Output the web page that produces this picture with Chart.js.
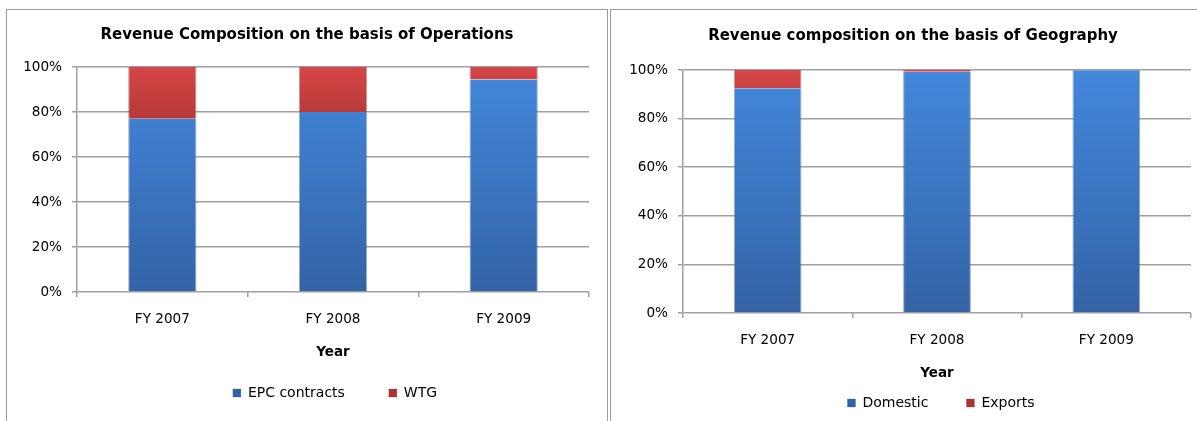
<!DOCTYPE html>
<html>
<head>
<meta charset="utf-8">
<script src="https://cdn.jsdelivr.net/npm/chart.js@4.4.1/dist/chart.umd.min.js"></script>
<style>
  body { margin: 0; background: #fff; width: 1197px; height: 421px; overflow: hidden; position: relative; }
  .box { position: absolute; top: 9px; height: 440px; border: 1px solid #9c9c9c; box-sizing: border-box; }
  #boxOps { left: 6px; width: 602px; }
  #boxGeo { left: 610px; width: 602px; }
  canvas { position: absolute; left: 0; top: 0; }
</style>
</head>
<body>
<div class="box" id="boxOps"><canvas id="chartOps" width="599" height="411"></canvas></div>
<div class="box" id="boxGeo"><canvas id="chartGeo" width="600" height="411"></canvas></div>

<script>
// data
const years = ['FY 2007', 'FY 2008', 'FY 2009'];
const epcContracts = [77, 80, 94.5];
const wtg = [23, 20, 5.5];
const domestic = [92.5, 99.3, 99.9];
const exportsShare = [7.5, 0.7, 0.1];
const percentTicks = [0, 20, 40, 60, 80, 100];

const FONT = '"DejaVu Sans", Tahoma, sans-serif';

// vertical gradients over the plot area, like the old Excel bar fill
function blueFill(ctx) {
  const area = ctx.chart.chartArea;
  if (!area) return '#3d7bc9';
  const g = ctx.chart.ctx.createLinearGradient(0, area.top, 0, area.bottom);
  g.addColorStop(0, '#4287da');
  g.addColorStop(0.5, '#3b76c2');
  g.addColorStop(1, '#3363a5');
  return g;
}
function redFill(ctx) {
  const area = ctx.chart.chartArea;
  if (!area) return '#c03c3c';
  const g = ctx.chart.ctx.createLinearGradient(0, area.top, 0, area.top + (area.bottom - area.top) * 0.3);
  g.addColorStop(0, '#d64646');
  g.addColorStop(1, '#ad3434');
  return g;
}

// l = layout numbers for one panel
function makeChart(canvasId, title, series, l) {
  return new Chart(document.getElementById(canvasId), {
    type: 'bar',
    data: {
      labels: years,
      datasets: [
        { label: series[0].name, data: series[0].data, backgroundColor: blueFill,
          borderColor: 'rgba(30,60,110,0.45)', borderWidth: { left: 1, right: 1 } },
        { label: series[1].name, data: series[1].data, backgroundColor: redFill,
          borderColor: 'rgba(110,30,30,0.45)', borderWidth: { left: 1, right: 1 } }
      ]
    },
    options: {
      responsive: false,
      animation: false,
      layout: { padding: { left: 0, right: l.padRight, top: 0, bottom: l.padBottom } },
      datasets: { bar: { categoryPercentage: 1, barPercentage: 0.4 } },
      plugins: {
        title: {
          display: true, text: title, color: '#000',
          font: { family: FONT, size: 15, weight: 'bold' },
          padding: { top: l.titleTop, bottom: l.titleBottom }
        },
        legend: {
          position: 'bottom',
          labels: {
            boxWidth: 8, boxHeight: 8, padding: l.legendGap, color: '#000',
            font: { family: FONT, size: 14 }
          }
        },
        tooltip: { enabled: false }
      },
      scales: {
        x: {
          stacked: true,
          grid: { display: true, drawOnChartArea: false, offset: true, tickLength: 5, color: '#a0a0a0', lineWidth: 1.5 },
          border: { display: false },
          ticks: { color: '#000', padding: l.tickPad, font: { family: FONT, size: 13.6 } },
          title: {
            display: true, text: 'Year', color: '#000',
            font: { family: FONT, size: 13.5, weight: 'bold' },
            padding: { top: 0, bottom: l.yearBottom }
          },
          afterFit: s => { s.height = l.xHeight; }
        },
        y: {
          stacked: true, min: 0, max: 100,
          afterBuildTicks: s => { s.ticks = percentTicks.map(v => ({ value: v })); },
          grid: { color: '#a0a0a0', lineWidth: 1.5, tickLength: 5 },
          border: { display: true, color: '#a0a0a0', width: 1.5 },
          ticks: { color: '#000', padding: 10, font: { family: FONT, size: 13.6 }, callback: v => v + '%' },
          afterFit: s => { s.width = l.yWidth; }
        }
      }
    },
    plugins: [{
      id: 'boxShift',
      afterLayout(chart) {
        chart.legend.left += l.legendShift;
        chart.legend.right += l.legendShift;
        chart.titleBlock.left += l.titleShift;
        chart.titleBlock.right += l.titleShift;
      }
    }]
  });
}

makeChart('chartOps', 'Revenue Composition on the basis of Operations',
  [{ name: 'EPC contracts', data: epcContracts }, { name: 'WTG', data: wtg }],
  { yWidth: 70, padRight: 17, padBottom: 11, titleTop: 16, titleBottom: 23, titleShift: 9,
    tickPad: 14.6, xHeight: 50, yearBottom: -19, legendGap: 44, legendShift: 37 });
makeChart('chartGeo', 'Revenue composition on the basis of Geography',
  [{ name: 'Domestic', data: domestic }, { name: 'Exports', data: exportsShare }],
  { yWidth: 72, padRight: 20, padBottom: 1, titleTop: 17, titleBottom: 25, titleShift: 12,
    tickPad: 14.5, xHeight: 45, yearBottom: -24, legendGap: 38, legendShift: 40 });
</script>
</body>
</html>
